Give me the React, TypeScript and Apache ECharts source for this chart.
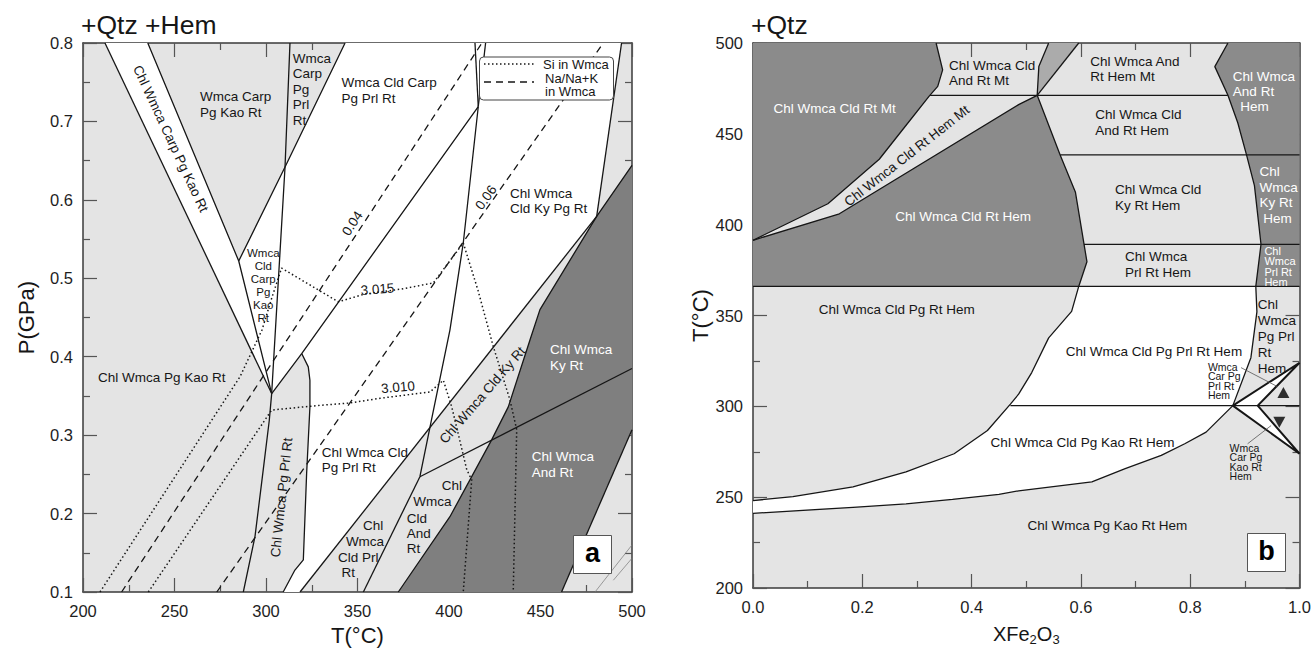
import React, { useEffect, useRef } from "react";
import * as echarts from "echarts";

type Pt = [number, number];
const FONT = '"Liberation Sans", Arial, Helvetica, sans-serif';

// ---------------- Panel a : T (°C) vs P (GPa) ----------------
const aTempTicks = [200, 250, 300, 350, 400, 450, 500];
const aPresTicks = [0.1, 0.2, 0.3, 0.4, 0.5, 0.6, 0.7, 0.8];

// phase boundaries (solid)
const aLineA: Pt[] = [[212.0, 0.8], [303.1, 0.353]];
const aLineB: Pt[] = [[235.4, 0.8], [285.1, 0.522], [303.1, 0.353]];
const aLineC: Pt[] = [[313.1, 0.8], [310.4, 0.642], [303.1, 0.353]];
const aLineD: Pt[] = [[285.1, 0.522], [310.4, 0.642], [343.2, 0.8]];
const aLineE: Pt[] = [[303.1, 0.353], [319.5, 0.404], [416.0, 0.719]];
const aLineW1: Pt[] = [[414.2, 0.8], [416.0, 0.719]];
const aLineW2: Pt[] = [[420.0, 0.8], [416.0, 0.719]];
const aLineF: Pt[] = [[416.0, 0.719], [407.8, 0.545], [400.5, 0.434], [389.5, 0.309], [384.1, 0.247]];
const aLineL: Pt[] = [[303.1, 0.353], [301.8, 0.319], [298.5, 0.256], [294.0, 0.171], [287.6, 0.1]];
const aLineM: Pt[] = [[319.5, 0.404], [323.1, 0.387], [324.0, 0.37], [324.0, 0.336], [322.2, 0.251], [320.4, 0.141], [315.8, 0.128], [309.4, 0.1]];
const aLineG: Pt[] = [[318.6, 0.1], [480.7, 0.579]];
const aLineN: Pt[] = [[480.7, 0.579], [494.3, 0.8]];
const aLineR: Pt[] = [[372.3, 0.1], [400.5, 0.196], [423.3, 0.294], [432.4, 0.336], [444.2, 0.421], [449.7, 0.46], [480.7, 0.579], [500, 0.644]];
const aLineKyAnd: Pt[] = [[384.1, 0.247], [500, 0.385]];
const aLinePrlAnd: Pt[] = [[384.1, 0.247], [353.2, 0.1]];
const aLineDarkEdge: Pt[] = [[461.5, 0.1], [500, 0.307]];
const aFaint1: Pt[] = [[479.8, 0.1], [500, 0.16]];
const aFaint2: Pt[] = [[489.8, 0.115], [500, 0.143]];

// Si in Wmca isopleths (dotted)
const aSi3015: Pt[] = [[209.3, 0.1], [285.8, 0.3745], [297.8, 0.434], [303.1, 0.4745], [308.5, 0.513], [339.5, 0.47], [354.1, 0.48], [373.2, 0.486], [391.4, 0.494], [407.8, 0.545], [415.8, 0.485], [424.2, 0.413], [433.3, 0.345], [437.0, 0.307], [435.1, 0.1]];
const aSi3010: Pt[] = [[235.7, 0.1], [303.1, 0.332], [329.5, 0.338], [345.9, 0.341], [362.3, 0.347], [389.6, 0.355], [396.9, 0.37], [401.5, 0.336], [409.7, 0.256], [412.4, 0.243], [407.8, 0.1]];
// Na/(Na+K) in Wmca isopleths (dashed)
const aNa004: Pt[] = [[221.1, 0.1], [418.0, 0.8]];
const aNa006: Pt[] = [[273.1, 0.1], [484.3, 0.8]];

// field fills
const aWhiteBand: Pt[] = [[212, 0.8], [235.4, 0.8], [285.1, 0.522], [303.1, 0.353]];
const aWhiteMain: Pt[] = [[285.1, 0.522], [310.4, 0.642], [343.2, 0.8], [494.3, 0.8], [480.7, 0.579], [318.6, 0.1], [309.4, 0.1], [315.8, 0.128], [320.4, 0.141], [322.2, 0.251], [324.0, 0.336], [324.0, 0.37], [323.1, 0.387], [319.5, 0.404], [303.1, 0.353]];
const aDark: Pt[] = [[372.3, 0.1], [400.5, 0.196], [423.3, 0.294], [432.4, 0.336], [444.2, 0.421], [449.7, 0.46], [480.7, 0.579], [500, 0.644], [500, 0.307], [461.5, 0.1]];

// ---------------- Panel b : XFe2O3 vs T (°C) ----------------
const bXTicks = [0.0, 0.2, 0.4, 0.6, 0.8, 1.0];
const bTempTicks = [200, 250, 300, 350, 400, 450, 500];

const bUpperBand: Pt[] = [[0, 391.4], [0.137, 411.5], [0.231, 436.0], [0.274, 452.4], [0.322, 470.6], [0.338, 476.1], [0.347, 485.2], [0.335, 500]];
const bLowerBand: Pt[] = [[0, 391.4], [0.158, 406.0], [0.486, 466.1], [0.52, 471.2]];
const bSliverL: Pt[] = [[0.541, 500], [0.523, 487.0], [0.52, 471.2]];
const bSliverR: Pt[] = [[0.596, 500], [0.52, 471.2]];
const bHemBoundary: Pt[] = [[0.52, 471.2], [0.562, 438.4], [0.59, 417.8], [0.611, 379.6], [0.596, 366], [0.583, 352.3], [0.541, 337.7], [0.51, 318.6], [0.486, 306.7], [0.471, 301.2], [0.429, 286.7], [0.368, 273.9], [0.28, 263.9], [0.183, 255.7], [0.073, 250.3], [0, 248.1]];
const bLowerCurve: Pt[] = [[0, 241.1], [0.183, 244.4], [0.28, 246.3], [0.365, 248.8], [0.45, 251.5], [0.486, 253.5], [0.62, 258.4], [0.681, 265.7], [0.747, 273.0], [0.79, 279.4], [0.829, 285.8], [0.878, 300.4]];
const bAndBoundary: Pt[] = [[0.869, 500], [0.845, 487], [0.869, 471.2], [0.887, 456.1], [0.903, 438.4], [0.9175, 421.5], [0.9295, 389.2], [0.92, 366], [0.922, 352], [0.911, 326.8], [0.878, 300.4]];
const bH471: Pt[] = [[0.324, 471.2], [0.869, 471.2]];
const bH438: Pt[] = [[0.562, 438.4], [1, 438.4]];
const bH389: Pt[] = [[0.6057, 389.2], [1, 389.2]];
const bH366: Pt[] = [[0, 366], [1, 366]];
const bH300: Pt[] = [[0.471, 300.4], [1, 300.4]];
const bWedges: Pt[] = [[0.878, 300.4], [1, 324.0], [0.9235, 300.4], [1, 273.9], [0.878, 300.4]];
const bLeaderUp: Pt[] = [[0.893, 321.3], [0.96, 310.8]];
const bLeaderDown: Pt[] = [[0.948, 289.4], [0.905, 279.4]];
const bTriUp: Pt = [0.9705, 307.6];
const bTriDown: Pt = [0.963, 291.2];

const bDarkMt: Pt[] = [[0, 500], [0.335, 500], [0.347, 485.2], [0.338, 476.1], [0.322, 470.6], [0.274, 452.4], [0.231, 436.0], [0.137, 411.5], [0, 391.4]];
const bDarkHem: Pt[] = [[0, 391.4], [0.158, 406.0], [0.486, 466.1], [0.52, 471.2], [0.562, 438.4], [0.59, 417.8], [0.611, 379.6], [0.596, 366], [0, 366]];
const bDarkAndHem: Pt[] = [[0.869, 500], [1, 500], [1, 438.4], [0.903, 438.4], [0.887, 456.1], [0.869, 471.2], [0.845, 487]];
const bDarkKyHem: Pt[] = [[0.903, 438.4], [1, 438.4], [1, 389.2], [0.9295, 389.2], [0.9175, 421.5]];
const bDarkPrlHem: Pt[] = [[0.9295, 389.2], [1, 389.2], [1, 366], [0.92, 366]];
const bSliver: Pt[] = [[0.541, 500], [0.596, 500], [0.52, 471.2], [0.523, 487.0]];
const bWhite: Pt[] = [
  [0, 248.1], [0.073, 250.3], [0.183, 255.7], [0.28, 263.9], [0.368, 273.9], [0.429, 286.7], [0.471, 301.2], [0.486, 306.7], [0.51, 318.6], [0.541, 337.7], [0.583, 352.3], [0.596, 366],
  [0.92, 366], [0.922, 352], [0.911, 326.8], [0.878, 300.4],
  [0.829, 285.8], [0.79, 279.4], [0.747, 273.0], [0.681, 265.7], [0.62, 258.4], [0.486, 253.5], [0.45, 251.5], [0.365, 248.8], [0.28, 246.3], [0.183, 244.4], [0, 241.1],
];
const bWedgeUp: Pt[] = [[0.878, 300.4], [1, 324.0], [0.9235, 300.4]];
const bWedgeDown: Pt[] = [[0.878, 300.4], [0.9235, 300.4], [1, 273.9]];

// ---------------- styling / annotation config ----------------
const LIGHT = "#e4e4e4";
const DARK_A = "#7f7f7f";
const DARK_B = "#8b8b8b";
const MID = "#ababab";
const INK = "#161616";

type Lab = { t: string; x: number; y: number; rot?: number; align?: string; color?: string; size?: number; lh?: number };

const labelsA: Lab[] = [
  { t: "Chl Wmca Carp Pg Kao Rt", x: 247.9, y: 0.678, rot: -65 },
  { t: "Wmca Carp\nPg Kao Rt", x: 263.9, y: 0.722, align: "left", lh: 16 },
  { t: "Wmca\nCarp\nPg\nPrl\nRt", x: 314.6, y: 0.741, align: "left", lh: 15.5 },
  { t: "Wmca Cld Carp\nPg Prl Rt", x: 341.3, y: 0.74, align: "left", lh: 16 },
  { t: "Wmca\nCld\nCarp\nPg\nKao\nRt", x: 298.5, y: 0.491, size: 11.5, lh: 13 },
  { t: "0.04", x: 347.2, y: 0.57, rot: 56.7 },
  { t: "0.06", x: 420.2, y: 0.603, rot: 54.8 },
  { t: "3.015", x: 360.9, y: 0.486, rot: 4 },
  { t: "3.010", x: 372.1, y: 0.361, rot: 5 },
  { t: "Chl Wmca\nCld Ky Pg Rt", x: 433.3, y: 0.598, align: "left", lh: 15 },
  { t: "Chl Wmca Pg Kao Rt", x: 243.0, y: 0.3735 },
  { t: "Chl Wmca Pg Prl Rt", x: 308.5, y: 0.2205, rot: 84 },
  { t: "Chl Wmca Cld\nPg Prl Rt", x: 330.4, y: 0.268, align: "left", lh: 15 },
  { t: "Chl Wmca Cld Ky Rt", x: 418.3, y: 0.351, rot: 49 },
  { t: "Chl", x: 358.5, y: 0.1854 },
  { t: "Wmca", x: 354.1, y: 0.165 },
  { t: "Cld Prl", x: 350.4, y: 0.1446 },
  { t: "Rt", x: 345.0, y: 0.1255 },
  { t: "Chl", x: 396, y: 0.2364, align: "left" },
  { t: "Wmca", x: 380.5, y: 0.2148, align: "left" },
  { t: "Cld\nAnd\nRt", x: 376.9, y: 0.1752, align: "left", lh: 15 },
  { t: "Chl Wmca\nKy Rt", x: 455.2, y: 0.399, align: "left", color: "#fff", lh: 16 },
  { t: "Chl Wmca\nAnd Rt", x: 445.2, y: 0.2632, align: "left", color: "#fff", lh: 16 },
];

const labelsB: Lab[] = [
  { t: "Chl Wmca Cld Rt Mt", x: 0.1494, y: 463.9, color: "#fff" },
  { t: "Chl Wmca Cld\nAnd Rt Mt", x: 0.3588, y: 483.3, align: "left", lh: 15 },
  { t: "Chl Wmca Cld Rt Hem Mt", x: 0.2814, y: 437.9, rot: 38 },
  { t: "Chl Wmca Cld Rt Hem", x: 0.3843, y: 404.4, color: "#fff" },
  { t: "Chl Wmca And\nRt Hem Mt", x: 0.617, y: 485.8, align: "left", lh: 15 },
  { t: "Chl Wmca Cld\nAnd Rt Hem", x: 0.626, y: 456.5, align: "left", lh: 16 },
  { t: "Chl Wmca Cld\nKy Rt Hem", x: 0.6625, y: 414.7, align: "left", lh: 16 },
  { t: "Chl Wmca\nPrl Rt Hem", x: 0.6807, y: 377.9, align: "left", lh: 16 },
  { t: "Chl Wmca\nAnd Rt\n  Hem", x: 0.878, y: 473.5, align: "left", color: "#fff", lh: 15 },
  { t: "Chl\nWmca\nKy Rt\n Hem", x: 0.9266, y: 416.4, align: "left", color: "#fff", lh: 15.5 },
  { t: "Chl\nWmca\nPrl Rt\nHem", x: 0.9357, y: 377.0, align: "left", color: "#fff", size: 11, lh: 10.5 },
  { t: "Chl\nWmca\nPg Prl\nRt\nHem", x: 0.9235, y: 338.5, align: "left", lh: 16 },
  { t: "Chl Wmca Cld Pg Rt Hem", x: 0.2632, y: 353.5 },
  { t: "Chl Wmca Cld Pg Prl Rt Hem", x: 0.7337, y: 330.0 },
  { t: "Wmca\nCar Pg\nPrl Rt\nHem", x: 0.8324, y: 313.9, align: "left", size: 10.5, lh: 9.5 },
  { t: "Chl Wmca Cld Pg Kao Rt Hem", x: 0.7711, y: 280.3, align: "right" },
  { t: "Wmca\nCar Pg\nKao Rt\nHem", x: 0.872, y: 269.4, align: "left", size: 10.5, lh: 9.5 },
  { t: "Chl Wmca Pg Kao Rt Hem", x: 0.6485, y: 234.4 },
];

function polySeries(polys: { pts: Pt[]; fill: string }[], g: number) {
  return {
    type: "custom",
    xAxisIndex: g * 2,
    yAxisIndex: g * 2,
    silent: true,
    clip: true,
    z: 1,
    data: polys.map((p) => p.pts[0]),
    renderItem: (params: any, api: any) => {
      const p = polys[params.dataIndex];
      return {
        type: "polygon",
        shape: { points: p.pts.map((q) => api.coord(q)) },
        style: { fill: p.fill, stroke: "none" },
      };
    },
  };
}

function labelSeries(labels: Lab[], g: number) {
  return {
    type: "custom",
    xAxisIndex: g * 2,
    yAxisIndex: g * 2,
    silent: true,
    clip: false,
    z: 6,
    data: labels.map((l) => [l.x, l.y]),
    renderItem: (params: any, api: any) => {
      const l = labels[params.dataIndex];
      const c = api.coord([l.x, l.y]);
      return {
        type: "text",
        x: c[0],
        y: c[1],
        rotation: ((l.rot || 0) * Math.PI) / 180,
        style: {
          text: l.t,
          fill: l.color || INK,
          fontSize: l.size || 13.5,
          fontFamily: FONT,
          align: l.align || "center",
          verticalAlign: "middle",
          lineHeight: l.lh || 15,
        },
      };
    },
  };
}

function lineSeries(data: Pt[], g: number, dash: any = "solid", width = 1.3, color = INK) {
  return {
    type: "line",
    data,
    xAxisIndex: g * 2,
    yAxisIndex: g * 2,
    symbol: "none",
    showSymbol: false,
    silent: true,
    clip: true,
    z: 3,
    lineStyle: { color, width, type: dash },
  };
}

const DOT = [1.5, 2.6];
const DASH = [7, 5];

function axis(grid: number, pos: string, min: number, max: number, interval: number, fmt: (v: number) => string, showLabel: boolean, name = "", nameGap = 0, nameTextStyle: any = {}) {
  return {
    type: "value",
    gridIndex: grid,
    position: pos,
    min,
    max,
    interval,
    name,
    nameLocation: "middle",
    nameGap,
    nameTextStyle: { fontSize: 22, color: INK, fontFamily: FONT, ...nameTextStyle },
    axisLine: { show: true, onZero: false, lineStyle: { color: "#3a3a3a", width: 1.5 } },
    axisTick: { show: true, inside: true, length: 14, lineStyle: { color: "#555", width: 1.2 } },
    minorTick: { show: true, splitNumber: 2, length: 7, lineStyle: { color: "#555", width: 1.2 } },
    splitLine: { show: false },
    axisLabel: { show: showLabel, formatter: fmt, color: "#1e1e1e", fontSize: 16.5, fontFamily: FONT, margin: 10 },
  };
}

function buildOption() {
  const f1 = (v: number) => v.toFixed(1);
  const f0 = (v: number) => v.toFixed(0);
  const series: any[] = [
    polySeries([
      { pts: aWhiteBand, fill: "#fff" },
      { pts: aWhiteMain, fill: "#fff" },
      { pts: aDark, fill: DARK_A },
    ], 0),
    polySeries([
      { pts: bDarkMt, fill: DARK_B },
      { pts: bDarkHem, fill: DARK_B },
      { pts: bDarkAndHem, fill: DARK_B },
      { pts: bDarkKyHem, fill: DARK_B },
      { pts: bDarkPrlHem, fill: DARK_B },
      { pts: bSliver, fill: MID },
      { pts: bWhite, fill: "#fff" },
      { pts: bWedgeUp, fill: "#fff" },
      { pts: bWedgeDown, fill: "#fff" },
    ], 1),
  ];
  [aLineA, aLineB, aLineC, aLineD, aLineE, aLineW1, aLineW2, aLineF, aLineL, aLineM, aLineG, aLineN, aLineR, aLineKyAnd, aLinePrlAnd, aLineDarkEdge].forEach((d) => series.push(lineSeries(d, 0)));
  [aFaint1, aFaint2].forEach((d) => series.push(lineSeries(d, 0, "solid", 0.7, "#777")));
  [aSi3015, aSi3010].forEach((d) => series.push(lineSeries(d, 0, DOT, 1.5)));
  [aNa004, aNa006].forEach((d) => series.push(lineSeries(d, 0, DASH, 1.3)));

  [bUpperBand, bLowerBand, bSliverL, bSliverR, bHemBoundary, bLowerCurve, bAndBoundary, bH471, bH438, bH389, bH366, bH300].forEach((d) => series.push(lineSeries(d, 1)));
  series.push(lineSeries(bWedges, 1, "solid", 2));
  [bLeaderUp, bLeaderDown].forEach((d) => series.push(lineSeries(d, 1, "solid", 0.8, "#555")));
  series.push({ type: "scatter", xAxisIndex: 2, yAxisIndex: 2, data: [bTriUp], symbol: "triangle", symbolSize: [12, 11], itemStyle: { color: "#000" }, z: 5, silent: true });
  series.push({ type: "scatter", xAxisIndex: 2, yAxisIndex: 2, data: [bTriDown], symbol: "triangle", symbolRotate: 180, symbolSize: [12, 11], itemStyle: { color: "#000" }, z: 5, silent: true });

  series.push(labelSeries(labelsA, 0));
  series.push(labelSeries(labelsB, 1));

  const gridBase = { top: 43, width: 549, height: 549, show: true, backgroundColor: LIGHT, borderWidth: 0 };

  return {
    animation: false,
    backgroundColor: "#fff",
    title: [
      { text: "+Qtz +Hem", left: 81, top: 11, padding: 0, textStyle: { fontSize: 26.5, fontWeight: "normal", color: INK, fontFamily: FONT } },
      { text: "+Qtz", left: 751, top: 11, padding: 0, textStyle: { fontSize: 26.5, fontWeight: "normal", color: INK, fontFamily: FONT } },
    ],
    grid: [
      { ...gridBase, left: 83 },
      { ...gridBase, left: 753 },
    ],
    xAxis: [
      axis(0, "bottom", aTempTicks[0], aTempTicks[aTempTicks.length - 1], 50, f0, true, "T(°C)", 32),
      axis(0, "top", aTempTicks[0], aTempTicks[aTempTicks.length - 1], 50, f0, false),
      axis(1, "bottom", bXTicks[0], bXTicks[bXTicks.length - 1], 0.2, f1, true, "XFe{s|2}O{s|3}", 34, {
        fontSize: 20,
        rich: { s: { fontSize: 13, fontFamily: FONT, color: INK, padding: [11, 0, 0, 0] } },
      }),
      axis(1, "top", bXTicks[0], bXTicks[bXTicks.length - 1], 0.2, f1, false),
    ],
    yAxis: [
      axis(0, "left", aPresTicks[0], aPresTicks[aPresTicks.length - 1], 0.1, f1, true, "P(GPa)", 46),
      axis(0, "right", aPresTicks[0], aPresTicks[aPresTicks.length - 1], 0.1, f1, false),
      axis(1, "left", bTempTicks[0], bTempTicks[bTempTicks.length - 1], 50, f0, true, "T(°C)", 40),
      axis(1, "right", bTempTicks[0], bTempTicks[bTempTicks.length - 1], 50, f0, false),
    ],
    graphic: [
      { type: "rect", z: 100, shape: { x: 479.5, y: 57, width: 134, height: 43, r: 4 }, style: { fill: "#fff", stroke: "#444", lineWidth: 1 } },
      { type: "line", z: 101, shape: { x1: 484, y1: 64, x2: 534, y2: 64 }, style: { stroke: INK, lineWidth: 1.3, lineDash: [1.5, 2.5] } },
      { type: "text", z: 101, x: 543, y: 64.5, style: { text: "Si in Wmca", fontSize: 13, fontFamily: FONT, fill: INK, align: "left", verticalAlign: "middle" } },
      { type: "line", z: 101, shape: { x1: 484, y1: 82, x2: 534, y2: 82 }, style: { stroke: INK, lineWidth: 1.3, lineDash: [7, 5] } },
      { type: "text", z: 101, x: 545, y: 85, style: { text: "Na/Na+K\nin Wmca", fontSize: 13, lineHeight: 13, fontFamily: FONT, fill: INK, align: "left", verticalAlign: "middle" } },
      { type: "rect", z: 100, shape: { x: 573.5, y: 535.5, width: 38, height: 38 }, style: { fill: "#fff", stroke: "#555", lineWidth: 1 } },
      { type: "text", z: 101, x: 592.5, y: 553, style: { text: "a", fontSize: 27, fontWeight: "bold", fontFamily: FONT, fill: "#000", align: "center", verticalAlign: "middle" } },
      { type: "rect", z: 100, shape: { x: 1247.5, y: 533.5, width: 38, height: 38 }, style: { fill: "#fff", stroke: "#555", lineWidth: 1 } },
      { type: "text", z: 101, x: 1266.5, y: 551, style: { text: "b", fontSize: 27, fontWeight: "bold", fontFamily: FONT, fill: "#000", align: "center", verticalAlign: "middle" } },
    ],
    series,
  };
}

export default function App() {
  const ref = useRef<HTMLDivElement>(null);
  useEffect(() => {
    const chart = echarts.init(ref.current as HTMLDivElement, null, { renderer: "svg" });
    chart.setOption(buildOption() as any);
    return () => chart.dispose();
  }, []);
  return <div ref={ref} style={{ position: "fixed", left: 0, top: 0, width: 1314, height: 651, background: "#fff" }} />;
}
